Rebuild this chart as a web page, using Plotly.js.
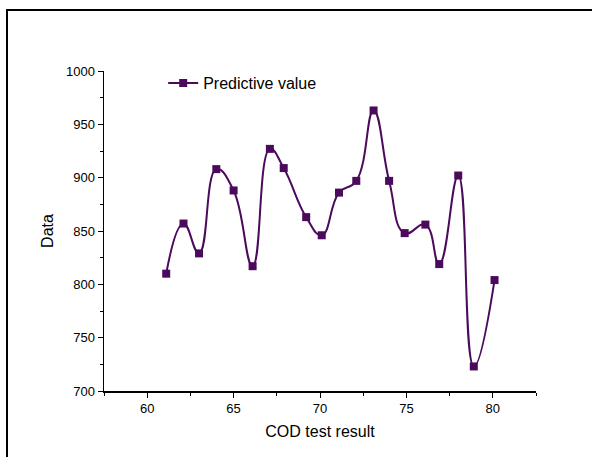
<!DOCTYPE html>
<html>
<head>
<meta charset="utf-8">
<script src="https://cdn.plot.ly/plotly-3.0.1.min.js"></script>
<style>
  html, body { margin: 0; padding: 0; background: #fff; overflow: hidden; }
  #frame { position: absolute; left: 6px; top: 9px; width: 620px; height: 480px; border: 2px solid #000; box-sizing: border-box; }
  #chart { position: absolute; left: 0; top: 0; width: 592px; height: 457px; }
</style>
</head>
<body>
<div id="frame"></div>
<div id="chart"></div>
<script>
const codTest = [61.1, 62.1, 63.0, 64.0, 65.0, 66.1, 67.1, 67.9, 69.2, 70.1, 71.1, 72.1, 73.1, 74.0, 74.9, 76.1, 76.9, 78.0, 78.9, 80.1];
const predictive = [810, 857, 829, 908, 888, 817, 927, 909, 863, 846, 886, 897, 963, 897, 848, 856, 819, 902, 723, 804];
const seriesName = 'Predictive value';
const xTickVals = [60, 65, 70, 75, 80];
const yTickVals = [700, 750, 800, 850, 900, 950, 1000];

const color = '#4b0a5c';
const font = 'Liberation Sans, Arial, sans-serif';

const trace = {
  x: codTest,
  y: predictive,
  name: seriesName,
  type: 'scatter',
  mode: 'lines+markers',
  line: { color: color, width: 2, shape: 'spline', smoothing: 1.3 },
  marker: { symbol: 'square', size: 8, color: color }
};

const layout = {
  width: 592,
  height: 457,
  paper_bgcolor: 'rgba(0,0,0,0)',
  plot_bgcolor: 'rgba(0,0,0,0)',
  margin: { l: 104, r: 55.5, t: 71, b: 65.5 },
  showlegend: true,
  legend: {
    x: 0.137, y: 1.015, xanchor: 'left', yanchor: 'top',
    bgcolor: 'rgba(0,0,0,0)',
    itemwidth: 30,
    font: { family: font, size: 16, color: '#000' }
  },
  xaxis: {
    range: [57.5, 82.5],
    tickvals: xTickVals,
    ticks: 'outside', ticklen: 5, tickwidth: 1, tickcolor: '#000',
    minor: { dtick: 2.5, tick0: 0, ticks: 'outside', ticklen: 3, tickcolor: '#000', tickwidth: 1 },
    showline: true, linecolor: '#000', linewidth: 1.5,
    showgrid: false, zeroline: false,
    tickfont: { family: font, size: 13, color: '#000' },
    title: { text: 'COD test result', font: { family: font, size: 16, color: '#000' }, standoff: 10 }
  },
  yaxis: {
    range: [700, 1000],
    tickvals: yTickVals,
    ticks: 'outside', ticklen: 5, tickwidth: 1, tickcolor: '#000',
    minor: { dtick: 25, tick0: 0, ticks: 'outside', ticklen: 3, tickcolor: '#000', tickwidth: 1 },
    showline: true, linecolor: '#000', linewidth: 1.5,
    showgrid: false, zeroline: false,
    tickfont: { family: font, size: 13, color: '#000' },
    title: { text: 'Data', font: { family: font, size: 16, color: '#000' }, standoff: 8 }
  }
};

Plotly.newPlot('chart', [trace], layout, { displayModeBar: false, staticPlot: true });
</script>
</body>
</html>
